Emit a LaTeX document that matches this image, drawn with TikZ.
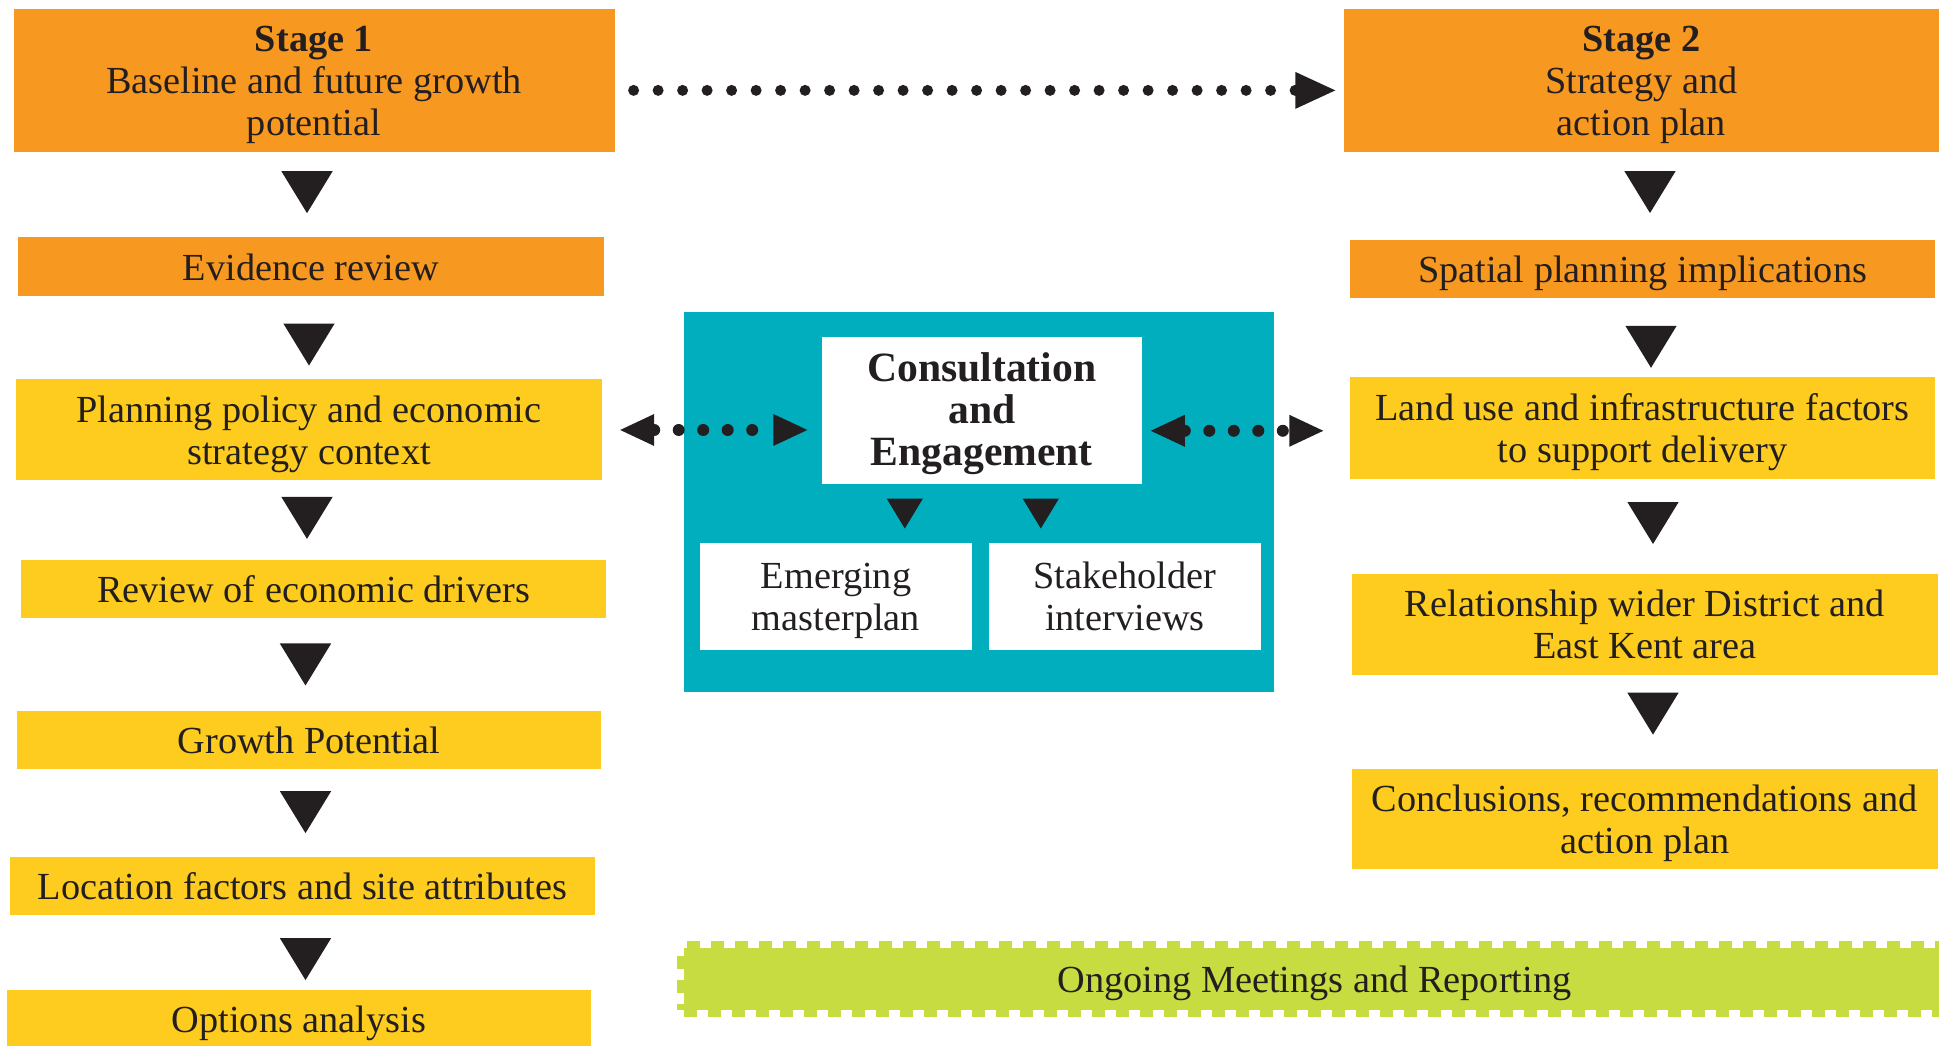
\documentclass[tikz,border=0pt]{standalone}
\usepackage{fontspec}
\setmainfont{Liberation Serif}
\usetikzlibrary{arrows.meta}
\usetikzlibrary{decorations.markings}
\definecolor{stageorange}{RGB}{247,152,33}
\definecolor{stepyellow}{RGB}{254,204,30}
\definecolor{consultteal}{RGB}{0,174,189}
\definecolor{meetgreen}{RGB}{198,220,64}
\definecolor{inkdark}{RGB}{35,31,32}
\tikzset{
  boxtext/.style={text=inkdark, align=center, inner sep=0pt, text height=0.37cm, text depth=0.09cm},
  twolines/.style={text height=0.78cm},
  threelines/.style={text height=1.20cm},
  orangebox/.style={boxtext, fill=stageorange},
  yellowbox/.style={boxtext, fill=stepyellow},
  whitebox/.style={boxtext, fill=white},
  tri/.style={color=inkdark, decoration={markings,
    mark=at position #1 with {\pgftransformxshift{0.21cm}\arrow{Triangle[length=0.42cm,width=0.51cm]}}},
    postaction={decorate}},
  tri/.default=.5,
  smalltri/.style={color=inkdark, decoration={markings,
    mark=at position .5 with {\pgftransformxshift{0.15cm}\arrow{Triangle[length=0.30cm,width=0.36cm]}}},
    postaction={decorate}},
  dotline/.style={draw=inkdark, line cap=round, line width=#1, dash pattern=on 0pt off 0.245cm},
  meetband/.style={boxtext, fill=meetgreen, draw=meetgreen, line width=0.14cm,
    dash pattern=on 0.13cm off 0.11cm}
}

\begin{document}
\begin{tikzpicture}[font=\fontsize{10.9pt}{12pt}\selectfont]
\useasboundingbox (0,0) rectangle (19.39,-10.46);

% stage 1
\node[orangebox, threelines, minimum width=6.01cm, minimum height=1.43cm] (stage1) at (3.14,-0.804) {\textbf{Stage 1}\\Baseline and future growth\\potential};
\node[orangebox, minimum width=5.85cm, minimum height=0.59cm] (evidence) at (3.11,-2.67) {Evidence review};
\node[yellowbox, twolines, minimum width=5.85cm, minimum height=1.01cm] (planning) at (3.09,-4.30) {Planning policy and economic\\strategy context};
\node[yellowbox, minimum width=5.85cm, minimum height=0.58cm] (drivers) at (3.135,-5.89) {Review of economic drivers};
\node[yellowbox, minimum width=5.84cm, minimum height=0.58cm] (growth) at (3.09,-7.40) {Growth Potential};
\node[yellowbox, minimum width=5.85cm, minimum height=0.58cm] (location) at (3.025,-8.86) {Location factors and site attributes};
\node[yellowbox, minimum width=5.84cm, minimum height=0.58cm] (options) at (2.99,-10.19) {Options analysis};

% stage 2
\node[orangebox, threelines, minimum width=5.95cm, minimum height=1.43cm] (stage2) at (16.415,-0.804) {\textbf{Stage 2}\\Strategy and\\action plan};
\node[orangebox, minimum width=5.85cm, minimum height=0.58cm] (spatial) at (16.425,-2.69) {Spatial planning implications};
\node[yellowbox, twolines, minimum width=5.85cm, minimum height=1.016cm] (landuse) at (16.425,-4.278) {Land use and infrastructure factors\\to support delivery};
\node[yellowbox, twolines, minimum width=5.86cm, minimum height=1.01cm] (relation) at (16.447,-6.245) {Relationship wider District and\\East Kent area};
\node[yellowbox, twolines, minimum width=5.86cm, minimum height=1.00cm] (conclude) at (16.447,-8.19) {Conclusions, recommendations and\\action plan};

% consultation
\node[fill=consultteal, minimum width=5.90cm, minimum height=3.80cm] (engage) at (9.79,-5.02) {};
\node[whitebox, threelines, font=\fontsize{11.85pt}{12pt}\selectfont\bfseries, minimum width=3.196cm, minimum height=1.475cm] (consult) at (9.818,-4.103) {Consultation\\and\\Engagement};
\node[whitebox, twolines, minimum width=2.72cm, minimum height=1.07cm] (emerging) at (8.36,-5.965) {Emerging\\masterplan};
\node[whitebox, twolines, minimum width=2.724cm, minimum height=1.07cm] (stake) at (11.248,-5.965) {Stakeholder\\interviews};

\node[meetband, minimum width=12.61cm, minimum height=0.62cm] (meetings) at (13.145,-9.79) {Ongoing Meetings and Reporting};

\path[tri=.47] ([xshift=-0.07cm]stage1.south) -- ([xshift=-0.07cm]stage1.south |- evidence.north);
\path[tri=.58] ([xshift=-0.02cm]evidence.south) -- ([xshift=-0.02cm]evidence.south |- planning.north);
\path[tri=.47] ([xshift=-0.02cm]planning.south) -- ([xshift=-0.02cm]planning.south |- drivers.north);
\path[tri=.50] ([xshift=-0.08cm]drivers.south) -- ([xshift=-0.08cm]drivers.south |- growth.north);
\path[tri=.49] ([xshift=-0.035cm]growth.south) -- ([xshift=-0.035cm]growth.south |- location.north);
\path[tri=.59] ([xshift=0.03cm]location.south) -- ([xshift=0.03cm]location.south |- options.north);

\path[tri=.455] ([xshift=0.085cm]stage2.south) -- ([xshift=0.085cm]stage2.south |- spatial.north);
\path[tri=.62] ([xshift=0.085cm]spatial.south) -- ([xshift=0.085cm]spatial.south |- landuse.north);
\path[tri=.465] ([xshift=0.105cm]landuse.south) -- ([xshift=0.105cm]landuse.south |- relation.north);
\path[tri=.41] ([xshift=0.083cm]relation.south) -- ([xshift=0.083cm]relation.south |- conclude.north);

\path[smalltri] ([xshift=-0.77cm]consult.south) -- ([xshift=-0.77cm]consult.south |- emerging.north);
\path[smalltri] ([xshift=0.59cm]consult.south) -- ([xshift=0.59cm]consult.south |- stake.north);

\draw[dotline=0.11cm, -{Triangle[length=0.40cm,width=0.37cm,line width=0pt]}, shorten <=0.184cm, shorten >=0.08cm] ([yshift=-0.1cm]stage1.east) -- ([yshift=-0.1cm]stage2.west);
\draw[dotline=0.12cm, {Triangle[length=0.34cm,width=0.32cm,line width=0pt]}-{Triangle[length=0.34cm,width=0.32cm,line width=0pt]}, shorten <=0.18cm, shorten >=0.14cm] (planning.east) -- (planning.east -| consult.west);
\draw[dotline=0.12cm, {Triangle[length=0.34cm,width=0.32cm,line width=0pt]}-{Triangle[length=0.34cm,width=0.32cm,line width=0pt]}, shorten <=0.085cm, shorten >=0.26cm] ([yshift=-0.03cm]consult.east |- landuse.west) -- ([yshift=-0.03cm]landuse.west);

\end{tikzpicture}
\end{document}
